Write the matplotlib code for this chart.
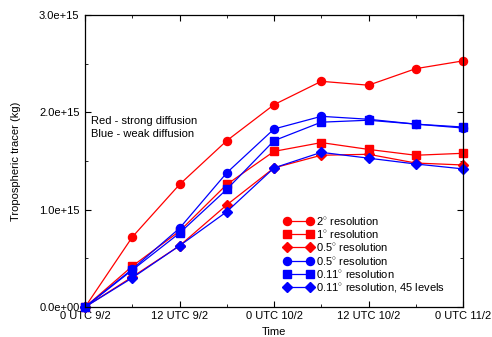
import matplotlib
matplotlib.use("Agg")
import matplotlib.pyplot as plt
from matplotlib.ticker import MultipleLocator, FuncFormatter

plt.rcParams['font.family'] = ['Liberation Sans', 'DejaVu Sans']
plt.rcParams['mathtext.fontset'] = 'custom'
plt.rcParams['mathtext.rm'] = 'Liberation Sans'

# hours since 0 UTC 9/2
hours = [0, 6, 12, 18, 24, 30, 36, 42, 48]

# tracer mass, units of 1e15 kg
red_2deg = [0, 0.72, 1.26, 1.71, 2.08, 2.32, 2.28, 2.45, 2.53]
red_1deg = [0, 0.42, 0.78, 1.26, 1.60, 1.69, 1.62, 1.56, 1.58]
red_05deg = [0, 0.31, 0.63, 1.05, 1.43, 1.56, 1.57, 1.48, 1.46]
blue_05deg = [0, 0.39, 0.81, 1.38, 1.83, 1.96, 1.93, 1.88, 1.84]
blue_011deg = [0, 0.38, 0.76, 1.21, 1.71, 1.90, 1.92, 1.88, 1.85]
blue_011deg_45 = [0, 0.30, 0.63, 0.98, 1.43, 1.59, 1.53, 1.47, 1.42]

xtick_pos = [0, 12, 24, 36, 48]
xtick_labels = ['0 UTC 9/2', '12 UTC 9/2', '0 UTC 10/2', '12 UTC 10/2', '0 UTC 11/2']

series = [
    (red_2deg, 'red', 'o', 5.8, r'2$^{\circ}$ resolution'),
    (red_1deg, 'red', 's', 5.2, r'1$^{\circ}$ resolution'),
    (red_05deg, 'red', 'D', 4.8, r'0.5$^{\circ}$ resolution'),
    (blue_05deg, 'blue', 'o', 5.8, r'0.5$^{\circ}$ resolution'),
    (blue_011deg, 'blue', 's', 5.2, r'0.11$^{\circ}$ resolution'),
    (blue_011deg_45, 'blue', 'D', 4.8, r'0.11$^{\circ}$ resolution, 45 levels'),
]

fs = 8

fig = plt.figure(figsize=(4.92, 3.37), dpi=100)
ax = fig.add_axes([0.173, 0.089, 0.768, 0.866])

for vals, col, mk, ms, lab in series:
    ax.plot(hours, [v * 1e15 for v in vals], color=col, marker=mk, markersize=ms,
            linewidth=0.9, label=lab, clip_on=False)

ax.set_xlim(0, 48)
ax.set_ylim(0, 3e15)
ax.set_xticks(xtick_pos)
ax.set_xticklabels(xtick_labels)
ax.xaxis.set_minor_locator(MultipleLocator(6))
ax.yaxis.set_major_locator(MultipleLocator(1e15))
ax.yaxis.set_minor_locator(MultipleLocator(0.5e15))
ax.yaxis.set_major_formatter(FuncFormatter(lambda v, p: '%.1e' % v))
ax.tick_params(which='both', direction='in', top=True, right=True, labelsize=fs)
ax.tick_params(which='major', length=4)
ax.tick_params(axis='x', which='major', pad=3)
ax.tick_params(axis='y', which='major', pad=4)
ax.tick_params(which='minor', length=2.5)
for s in ax.spines.values():
    s.set_linewidth(0.9)

ax.set_xlabel('Time', fontsize=fs, labelpad=4)
ax.set_ylabel('Tropospheric tracer (kg)', fontsize=fs, labelpad=13)

ax.text(0.015, 0.627, 'Red - strong diffusion', transform=ax.transAxes, fontsize=fs)
ax.text(0.015, 0.582, 'Blue - weak diffusion', transform=ax.transAxes, fontsize=fs)

ax.legend(loc='lower left', bbox_to_anchor=(0.505, 0.018), frameon=False, numpoints=2,
          fontsize=fs, handlelength=2.7, handletextpad=0.2, labelspacing=0.11,
          borderaxespad=0.3)

fig.savefig('out.png', dpi=100)
